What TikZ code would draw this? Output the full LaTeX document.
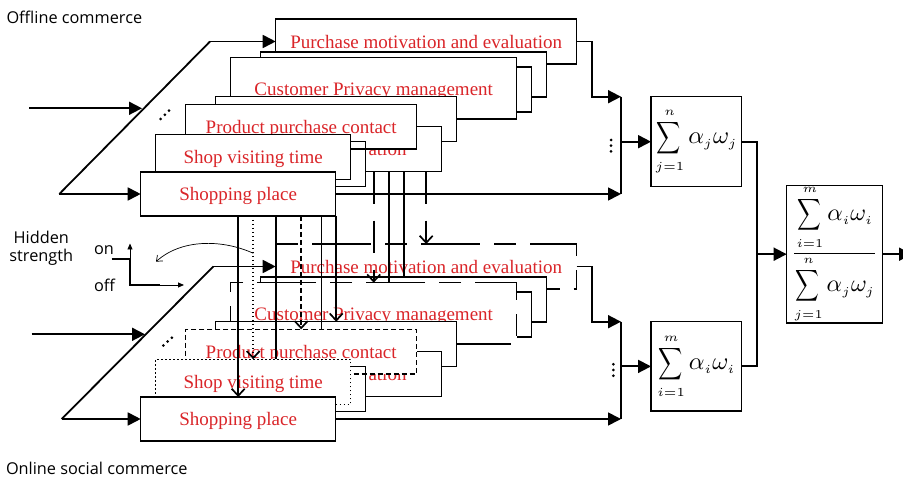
\documentclass[tikz,border=0pt]{standalone}
\usepackage{graphicx}
\usepackage{fontspec}
\setmainfont{Liberation Serif}
\newfontfamily\sanslabel{Open Sans}
\usetikzlibrary{arrows.meta,calc}
\DeclareMathSizes{10}{10}{5}{5}
\definecolor{boxred}{RGB}{218,37,41}
% narrow display sigma with limits
\newcommand{\opsum}{\mathop{\scalebox{0.686}[0.914]{$\displaystyle\sum$}}\limits}
\newcommand{\sumterm}[3]{\opsum_{#1}^{#2}\alpha_{#3}\omega_{#3}}

\begin{document}
\begin{tikzpicture}[x=1pt,y=-1pt,
  every node/.style={inner sep=0pt,outer sep=0pt},
  card/.style={draw,line width=1.3pt,fill=white,text=boxred,
    font=\fontsize{19}{22}\selectfont,text height=14pt,text depth=0pt},
  cardline/.style={draw,line width=1.3pt},
  redtext/.style={text=boxred,font=\fontsize{19}{22}\selectfont},
  longdash/.style={dash pattern=on 22pt off 14pt on 59pt off 14pt},
  shortdash/.style={dash pattern=on 5pt off 3pt},
  dotline/.style={dash pattern=on 1.3pt off 2.7pt},
  linkdash/.style={dash pattern=on 32pt off 17pt},
  link/.style={line width=1.7pt,-{Straight Barb[length=7pt,width=13pt]}},
  plainlink/.style={line width=1.7pt},
  feed/.style={line width=1.8pt,-{Triangle[length=13pt,width=13pt]}},
  wire/.style={line width=1.8pt},
  switchline/.style={line width=1.7pt},
  thinarrow/.style={line width=0.9pt,-{Triangle[length=6pt,width=5pt]}},
  mathcard/.style={draw,line width=1.3pt,fill=white},
  sanslab/.style={font=\sanslabel\fontsize{16.3}{18.5}\selectfont}
]
\useasboundingbox (0,0) rectangle (903,478);

% ---------- offline commerce stack ----------
\node[card,minimum width=301pt,minimum height=45pt] (pm) at (426.2,41.5) {Purchase motivation and evaluation};
\node[card,minimum width=286pt,minimum height=45pt] (bk2) at (403.7,74.5) {};
\node[card,minimum width=286pt,minimum height=45pt] (bk3) at (388.7,89.5) {};
\node[card,minimum width=286pt,minimum height=61.3pt] (cp) at (373.7,88.35) {Customer Privacy management};
\node[card,minimum width=241pt,minimum height=45pt] (bk4) at (336.2,119.2) {};
\node[card,minimum width=240.4pt,minimum height=45pt] (at) at (321.5,149.2) {};
\node[redtext,anchor=base] (atl) at (387.5,155.5) {ation};
\node[card,draw=none,minimum width=179pt,minimum height=45pt] (sv) at (276.2,164.2) {};
\node[card,minimum width=231pt,minimum height=44.7pt] (pp) at (301.2,126.65) {Product purchase contact};
\draw[cardline] (sv.south west) rectangle (sv.north east);
\node[card,minimum width=195pt,minimum height=45pt] (st) at (253.2,156.8) {Shop visiting time};
\node[card,minimum width=195pt,minimum height=44pt] (sp) at (238.2,194) {Shopping place};

% ---------- online social commerce stack ----------
\node[card,longdash,dash phase=29pt,minimum width=301pt,minimum height=45pt] (pmB) at (426.2,266.5) {Purchase motivation and evaluation};
\node[card,minimum width=286pt,minimum height=45pt] (bk2B) at (403.7,299.5) {};
\node[card,minimum width=286pt,minimum height=45pt] (bk3B) at (388.7,314.5) {};
\node[card,longdash,dash phase=33pt,minimum width=286pt,minimum height=61.3pt] (cpB) at (373.7,313.35) {Customer Privacy management};
\node[card,minimum width=241pt,minimum height=45pt] (bk4B) at (336.2,344.2) {};
\node[card,minimum width=240.4pt,minimum height=45pt] (atB) at (321.5,374.2) {};
\node[redtext,anchor=base] (atlB) at (387.5,380.5) {ation};
\node[card,draw=none,minimum width=179pt,minimum height=45pt] (svB) at (276.2,389.2) {};
\node[card,shortdash,minimum width=231pt,minimum height=44.7pt] (ppB) at (301.2,351.65) {Product purchase contact};
\draw[cardline] (svB.south west) rectangle (svB.north east);
\node[card,dotline,minimum width=195pt,minimum height=45pt] (stB) at (253.2,381.8) {Shop visiting time};
\node[card,minimum width=195pt,minimum height=44pt] (spB) at (238.2,419) {Shopping place};

% ---------- links from offline items to online items ----------
\draw[link] (sp.south) -- (spB.north);
\draw[link,dotline] (st.south |- sp.south) -- (stB.north);
\draw[plainlink] (sv.south |- sp.south) -- (sv.south |- stB.north);
\draw[link,shortdash] (pp.south |- sp.south) -- (ppB.north);
\draw[plainlink] (at.south |- sp.south) -- (at.south |- ppB.north);
\draw[link] (bk4.south |- sp.south) -- (bk4B.north);
\draw[link,linkdash] (cp.south |- at.south) -- (cpB.north);
\draw[plainlink] (bk3.south |- at.south) -- (bk3.south |- cpB.north);
\draw[plainlink] (bk2.south |- at.south) -- (bk2B.north);
\draw[link,linkdash] (pm.south |- at.south) -- (pmB.north);

% ---------- weighted sums ----------
\node[mathcard,minimum width=90.7pt,minimum height=90pt] (s1) at (696.4,141.7)
  {\scalebox{2.45}{$\displaystyle\sumterm{j=1}{n}{j}$}};
\node[mathcard,minimum width=90.7pt,minimum height=89.3pt] (s2) at (696.4,366.4)
  {\scalebox{2.45}{$\displaystyle\sumterm{i=1}{m}{i}$}};
\node[mathcard,minimum width=96pt,minimum height=135pt] (fin) at (834.7,254.2)
  {\scalebox{2.4}{$\displaystyle\frac{\displaystyle\sumterm{i=1}{m}{i}}{\displaystyle\sumterm{j=1}{n}{j}}$}};

% ---------- collecting buses ----------
\coordinate (b1t) at (621,96.7);
\coordinate (b1b) at (621,194);
\coordinate (b1m) at (621,141.7);
\draw[feed] (pm.east) -- ++(15,0) |- (b1t);
\draw[feed] (sp.east) -- (b1b);
\draw[wire] (b1t) -- (b1b);
\draw[feed] (b1m) -- (s1.west);

\coordinate (b2t) at (621,321.7);
\coordinate (b2b) at (621,419);
\coordinate (b2m) at (621,366.4);
\draw[feed] (pmB.east) -- ++(15,0) |- (b2t);
\draw[feed] (spB.east) -- (b2b);
\draw[wire] (b2t) -- (b2b);
\draw[feed] (b2m) -- (s2.west);

\coordinate (j1) at ($(s1.east)+(15,0)$);
\coordinate (j2) at ($(s2.east)+(15,0)$);
\draw[wire] (s1.east) -- (j1) -- (j2) -- (s2.east);
\draw[feed] (j1 |- fin.west) -- (fin.west);
\coordinate (outend) at (912,254.2);
\draw[feed] (fin.east) -- (outend);

\foreach \yy in {140,145.7,151.4} \fill (611,\yy) circle[radius=1.5pt];
\foreach \yy in {364.3,370,375.7} \fill (613.3,\yy) circle[radius=1.5pt];

% ---------- inputs ----------
\coordinate (s1a) at (59.3,194);
\coordinate (s1b) at (210,41.5);
\draw[wire] (s1a) -- (s1b);
\draw[feed] (s1b) -- (pm.west);
\draw[feed] (s1a) -- (sp.west);
\coordinate (in1) at (29,108.3);
\coordinate (in1e) at (142,108.3);
\draw[feed] (in1) -- (in1e);
\fill (160.7,119) circle[radius=1.5pt] (164.8,114.8) circle[radius=1.5pt] (169,110.7) circle[radius=1.5pt];

\coordinate (s2a) at (61.7,419);
\coordinate (s2b) at (213.3,266.5);
\draw[wire] (s2a) -- (s2b);
\draw[feed] (s2b) -- (pmB.west);
\draw[feed] (s2a) -- (spB.west);
\coordinate (in2) at (31.7,334.3);
\coordinate (in2e) at (145,334.3);
\draw[feed] (in2) -- (in2e);
\fill (163.3,345.5) circle[radius=1.5pt] (167.6,341.6) circle[radius=1.5pt] (171.9,337.7) circle[radius=1.5pt];

% ---------- hidden strength switch ----------
\coordinate (swon) at (111.7,259);
\coordinate (swc) at (130,259);
\coordinate (swd) at (130,285);
\coordinate (swe) at (160,285);
\coordinate (swup) at (130,243.5);
\coordinate (swright) at (184,285);
\draw[switchline] (swon) -- (swc) -- (swd) -- (swe);
\draw[thinarrow] (swc) -- (swup);
\draw[thinarrow] (swe) -- (swright);
\coordinate (cvs) at (253.3,253.3);
\coordinate (cve) at (156,261.7);
\draw[line width=0.7pt,-{Straight Barb[length=5pt,width=8pt]}] (cvs) .. controls (222,239) and (181,239) .. (cve);

% ---------- labels ----------
\node[sanslab,anchor=base west] (lbloff) at (6.5,23.3) {Offline commerce};
\node[sanslab,anchor=base west] (lblon) at (6,474.8) {Online social commerce};
\node[sanslab,anchor=base,align=center] (lblhid) at (41.3,262) {Hidden\\strength};
\node[sanslab,anchor=base] (lblonsw) at (104,255) {on};
\node[sanslab,anchor=base] (lbloffsw) at (104.5,292) {off};
\end{tikzpicture}
\end{document}
